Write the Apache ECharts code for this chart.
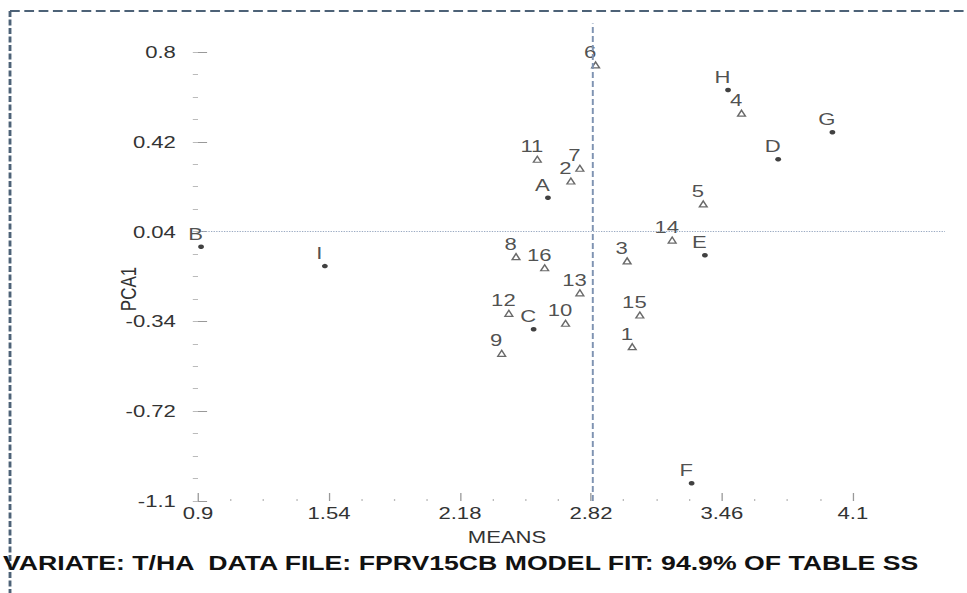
<!DOCTYPE html>
<html>
<head>
<meta charset="utf-8">
<script src="https://cdn.jsdelivr.net/npm/echarts@6/dist/echarts.min.js"></script>
<style>
  html, body { margin: 0; padding: 0; background: #fff; overflow: hidden; }
  #wrap { width: 967px; height: 593px; overflow: hidden; }
  /* the source picture is stretched sideways, so the chart is drawn narrow and scaled */
  #chart { width: 744px; height: 593px; transform: scaleX(1.3); transform-origin: 0 0; }
</style>
</head>
<body>
<div id="wrap"><div id="chart"></div></div>
<script>
// environments (dots)
const envNames = ['A', 'B', 'C', 'D', 'E', 'F', 'G', 'H', 'I'];
const envMeans = [2.61, 0.915, 2.54, 3.735, 3.377, 3.312, 4.0, 3.49, 1.52];
const envPCA1 = [0.183, -0.024, -0.373, 0.346, -0.06, -1.025, 0.46, 0.639, -0.106];

// genotypes (triangles)
const genNames = ['1', '2', '3', '4', '5', '6', '7', '8', '9', '10', '11', '12', '13', '14', '15', '16'];
const genMeans = [3.022, 2.722, 2.997, 3.556, 3.369, 2.843, 2.766, 2.454, 2.384, 2.696, 2.558, 2.419, 2.766, 3.217, 3.059, 2.594];
const genPCA1 = [-0.447, 0.254, -0.084, 0.541, 0.157, 0.745, 0.308, -0.066, -0.475, -0.348, 0.346, -0.306, -0.219, 0.004, -0.313, -0.113];

// axes
const xTicks = [0.9, 1.54, 2.18, 2.82, 3.46, 4.1];
const yTicks = [-1.1, -0.72, -0.34, 0.04, 0.42, 0.8];
const grandMean = 2.83;
const pcaCentre = 0.04;

const footer = 'VARIATE: T/HA  DATA FILE: FPRV15CB MODEL FIT: 94.9% OF TABLE SS';

function minorTicks(ticks) {
  const out = [];
  for (let i = 0; i < ticks.length - 1; i++) {
    for (let k = 1; k < 4; k++) out.push(ticks[i] + (ticks[i + 1] - ticks[i]) * k / 4);
  }
  return out;
}

const font = 'Liberation Sans, Arial, sans-serif';
const chart = echarts.init(document.getElementById('chart'), null, { renderer: 'svg' });

const pointLabel = {
  show: true,
  position: 'inside',
  offset: [-4.2, -13],
  formatter: '{b}',
  fontFamily: font,
  fontSize: 17,
  color: '#222'
};

const option = {
  animation: false,
  backgroundColor: '#fff',
  grid: { left: 152.3, right: 17.1, top: 23.6, bottom: 92 },
  xAxis: [
    {
      type: 'value', min: 0.9, max: 4.55, position: 'bottom',
      axisLine: { show: false, onZero: false },
      splitLine: { show: false },
      axisTick: { customValues: xTicks, inside: true, length: 8, lineStyle: { color: '#999' } },
      axisLabel: { customValues: xTicks, margin: 3, fontFamily: font, fontSize: 17, color: '#333' }
    },
    {
      type: 'value', min: 0.9, max: 4.55, position: 'bottom', offset: 0,
      axisLine: { show: false, onZero: false },
      splitLine: { show: false },
      axisLabel: { show: false },
      axisTick: { customValues: minorTicks(xTicks), inside: true, length: 2, lineStyle: { color: '#bbb' } }
    }
  ],
  yAxis: [
    {
      type: 'value', min: -1.1, max: 0.92, position: 'left',
      axisLine: { show: false, onZero: false },
      splitLine: { show: false },
      axisTick: { customValues: yTicks, inside: true, length: 7, lineStyle: { color: '#999' } },
      axisLabel: { customValues: yTicks, margin: 17, fontFamily: font, fontSize: 17, color: '#333' }
    },
    {
      type: 'value', min: -1.1, max: 0.92, position: 'left', offset: 0,
      axisLine: { show: false, onZero: false },
      splitLine: { show: false },
      axisLabel: { show: false },
      axisTick: { customValues: yTicks.concat(minorTicks(yTicks)), length: 4, lineStyle: { color: '#bbb' } }
    }
  ],
  series: [
    {
      name: 'Environments',
      type: 'scatter',
      symbol: 'circle',
      symbolSize: 4.5,
      itemStyle: { color: '#111' },
      label: pointLabel,
      data: envNames.map((n, i) => ({ name: n, value: [envMeans[i], envPCA1[i]] })),
      markLine: {
        silent: true,
        symbol: 'none',
        label: { show: false },
        data: [
          { xAxis: grandMean, lineStyle: { type: [6, 3], color: '#7f93b2', width: 1.5 } },
          { yAxis: pcaCentre, lineStyle: { type: [1, 1], color: '#9aaac2', width: 1.2 } }
        ]
      },
      z: 3
    },
    {
      name: 'Genotypes',
      type: 'scatter',
      symbol: 'triangle',
      symbolSize: [6, 6],
      itemStyle: { color: '#fff', borderColor: '#444', borderWidth: 1.2 },
      label: pointLabel,
      data: genNames.map((n, i) => ({ name: n, value: [genMeans[i], genPCA1[i]] })),
      z: 3
    }
  ],
  graphic: [
    {
      type: 'line', silent: true,
      shape: { x1: 7.7, y1: 11, x2: 744, y2: 11 },
      style: { stroke: '#4d6277', lineWidth: 2, lineDash: [7.5, 3.5] }
    },
    {
      type: 'line', silent: true,
      shape: { x1: 7.7, y1: 11, x2: 7.7, y2: 593 },
      style: { stroke: '#4d6277', lineWidth: 2.2, lineDash: [6, 2.5] }
    },
    {
      type: 'text', x: 390, y: 537,
      style: { text: 'MEANS', font: '17px ' + font, fill: '#333', textAlign: 'center', textVerticalAlign: 'middle' }
    },
    {
      type: 'text', x: 98.5, y: 289, rotation: Math.PI / 2,
      style: { text: 'PCA1', font: '17px ' + font, fill: '#333', textAlign: 'center', textVerticalAlign: 'middle' }
    },
    {
      type: 'text', x: 2.3, y: 563,
      style: { text: footer, font: 'bold 20.5px ' + font, fill: '#111', textAlign: 'left', textVerticalAlign: 'middle' }
    }
  ]
};

chart.setOption(option);
</script>
</body>
</html>
